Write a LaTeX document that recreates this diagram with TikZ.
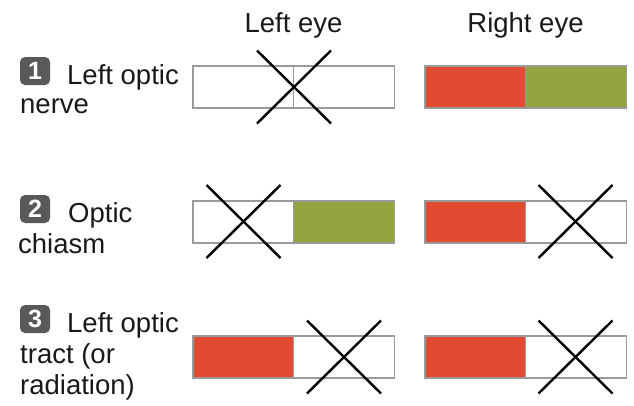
\documentclass[tikz,border=0pt]{standalone}
\usepackage{fontspec}
\setmainfont{Liberation Sans}
\definecolor{redc}{HTML}{E04B32}
\definecolor{greenc}{HTML}{93A540}
\definecolor{boxgray}{HTML}{9A9A9A}
\definecolor{badgegray}{HTML}{595959}
\begin{document}
\begin{tikzpicture}[x=1pt,y=-1pt,
  half/.style={draw=boxgray,line width=1.4pt,minimum width=101pt,minimum height=42pt,inner sep=0pt,outer sep=0pt},
  wh/.style={half,fill=white},
  rd/.style={half,fill=redc},
  gr/.style={half,fill=greenc},
  xarea/.style={minimum width=74pt,minimum height=73pt,inner sep=0pt,outer sep=0pt},
  xline/.style={line width=2.4pt,black},
  lbl/.style={font=\fontsize{27.5}{31}\selectfont,inner sep=0pt,anchor=base west,text=black!90},
  head/.style={font=\fontsize{27.5}{31}\selectfont,inner sep=0pt,anchor=base,text=black!90},
  badge/.style={fill=badgegray,rounded corners=5pt,minimum width=30pt,minimum height=28pt,inner sep=0pt,text=white,font=\fontsize{25}{25}\selectfont\bfseries},
]
\useasboundingbox (0,0) rectangle (634,405);
% headers
\node[head] (hl) at (293.5,32) {Left eye};
\node[head] (hr) at (525.5,32) {Right eye};
% row 1
\node[badge] (b1) at (35,71) {1};
\node[lbl] (t1a) at (67,84) {Left optic};
\node[lbl] (t1b) at (20,113) {nerve};
\node[wh] (r1a) at (243.5,87) {};
\node[wh] (r1b) at (344,87) {};
\node[rd] (r1c) at (475.5,87) {};
\node[gr] (r1d) at (576,87) {};
\node[xarea] (x1) at (294,87) {};
\draw[xline] (x1.north west) -- (x1.south east);
\draw[xline] (x1.north east) -- (x1.south west);
% row 2
\node[badge] (b2) at (35,209) {2};
\node[lbl] (t2a) at (68,222) {Optic};
\node[lbl] (t2b) at (18,253) {chiasm};
\node[wh] (r2a) at (243.5,222) {};
\node[gr] (r2b) at (344,222) {};
\node[rd] (r2c) at (475.5,222) {};
\node[wh] (r2d) at (576,222) {};
\node[xarea] (x2a) at (243.5,221.5) {};
\draw[xline] (x2a.north west) -- (x2a.south east);
\draw[xline] (x2a.north east) -- (x2a.south west);
\node[xarea] (x2b) at (575.5,221.5) {};
\draw[xline] (x2b.north west) -- (x2b.south east);
\draw[xline] (x2b.north east) -- (x2b.south west);
% row 3
\node[badge] (b3) at (35,319) {3};
\node[lbl] (t3a) at (67,332) {Left optic};
\node[lbl] (t3b) at (20,363) {tract (or};
\node[lbl] (t3c) at (20,394) {radiation)};
\node[rd] (r3a) at (243.5,357) {};
\node[wh] (r3b) at (344,357) {};
\node[rd] (r3c) at (475.5,357) {};
\node[wh] (r3d) at (576,357) {};
\node[xarea] (x3a) at (344,357) {};
\draw[xline] (x3a.north west) -- (x3a.south east);
\draw[xline] (x3a.north east) -- (x3a.south west);
\node[xarea] (x3b) at (575.5,357) {};
\draw[xline] (x3b.north west) -- (x3b.south east);
\draw[xline] (x3b.north east) -- (x3b.south west);
\end{tikzpicture}
\end{document}
